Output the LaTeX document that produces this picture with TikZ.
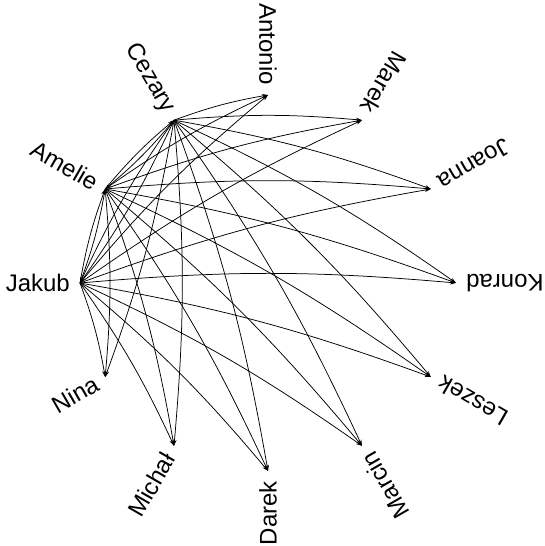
\documentclass[tikz,border=0pt]{standalone}
\usepackage{fontspec}
\setmainfont{Liberation Sans}
\usetikzlibrary{arrows.meta}
\begin{document}
\begin{tikzpicture}[x=1pt,y=1pt,
  lbl/.style={font=\fontsize{24}{24}\selectfont, inner sep=0pt, anchor=east},
  edge/.style={line width=0.75pt, -{Stealth[length=6pt,width=4pt]}, bend left=5}]
  \useasboundingbox (0,0) rectangle (544,546);
  \begin{scope}[shift={(268,263)}]
    % people placed around the circle
    \foreach \name/\ang/\txt in {anto/90/Antonio, mare/60/Marek, joan/30/Joanna,
        konr/0/Konrad, lesz/-30/Leszek, marc/-60/Marcin, dare/-90/Darek,
        mich/-120/Michał, nina/-150/Nina, jaku/180/Jakub, amel/150/Amelie,
        ceza/120/Cezary} {
      \coordinate (\name) at (\ang:188);
      \node[lbl, rotate=\ang+180] (\name-l) at (\ang:198) {\txt};
    }
    % every link leaves one of the three hubs
    \foreach \src in {ceza, amel, jaku} {
      \foreach \tgt in {anto, mare, joan, konr, lesz, marc, dare, mich, nina, jaku, amel, ceza} {
        \ifx\src\tgt\else
          \draw[edge] (\src) to (\tgt);
        \fi
      }
    }
  \end{scope}
\end{tikzpicture}
\end{document}
